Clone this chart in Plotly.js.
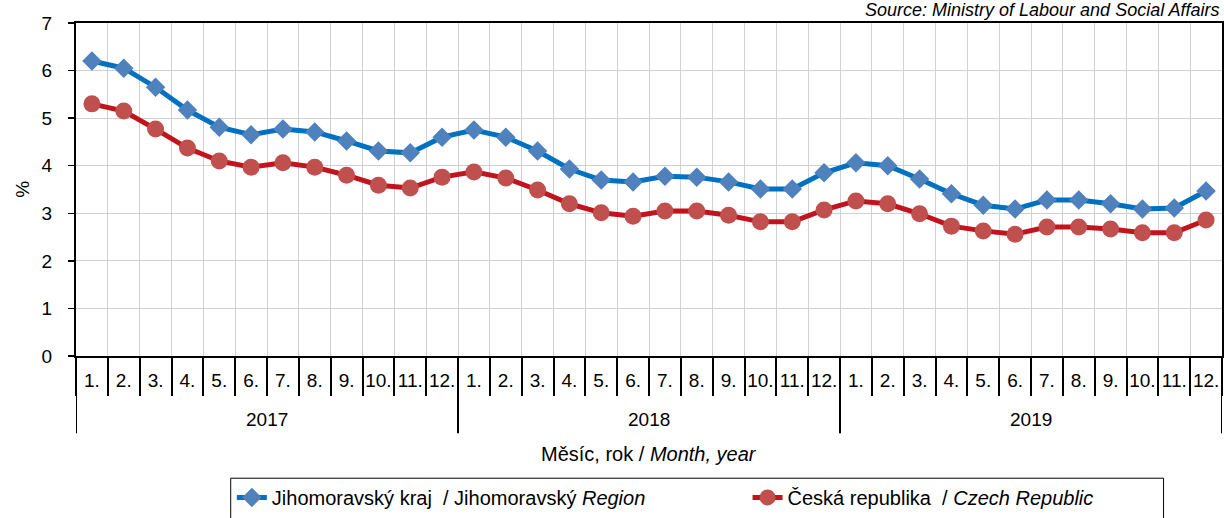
<!DOCTYPE html>
<html>
<head>
<meta charset="utf-8">
<script src="https://cdn.plot.ly/plotly-3.0.1.min.js"></script>
<style>html,body{margin:0;padding:0;background:#fff;}#chart{width:1224px;height:518px;}</style>
</head>
<body>
<div id="chart"></div>
<script>
const years = ["2017", "2018", "2019"];
const months = ["1.", "2.", "3.", "4.", "5.", "6.", "7.", "8.", "9.", "10.", "11.", "12."];
const jihomoravsky = [6.20, 6.05, 5.65, 5.17, 4.81, 4.65, 4.77, 4.71, 4.52, 4.31, 4.27, 4.60,
                      4.75, 4.60, 4.31, 3.93, 3.70, 3.66, 3.78, 3.76, 3.66, 3.51, 3.51, 3.85,
                      4.06, 4.00, 3.72, 3.41, 3.17, 3.09, 3.28, 3.28, 3.20, 3.09, 3.11, 3.47];
const ceskaRepublika = [5.30, 5.15, 4.77, 4.37, 4.10, 3.97, 4.06, 3.97, 3.80, 3.59, 3.53, 3.76,
                        3.87, 3.74, 3.49, 3.20, 3.01, 2.94, 3.05, 3.05, 2.96, 2.82, 2.82, 3.07,
                        3.26, 3.20, 2.99, 2.73, 2.63, 2.56, 2.71, 2.71, 2.67, 2.59, 2.59, 2.86];
const yTicks = [0, 1, 2, 3, 4, 5, 6, 7];

const keys = [], labels = [];
years.forEach(y => months.forEach(m => { keys.push(y + "-" + m); labels.push(m); }));

const FONT = "Liberation Sans, Arial, Helvetica, sans-serif";

const traces = [
  {
    x: keys, y: jihomoravsky, type: "scatter", mode: "lines+markers", legend: "legend",
    name: "Jihomoravský kraj  / Jihomoravský <i>Region</i>",
    line: {color: "#0070C0", width: 5},
    marker: {symbol: "diamond", size: 15, color: "#4F81BD"}
  },
  {
    x: keys, y: ceskaRepublika, type: "scatter", mode: "lines+markers", legend: "legend2",
    name: "Česká republika  / <i>Czech Republic</i>",
    line: {color: "#C0141E", width: 5},
    marker: {symbol: "circle", size: 17, color: "#C0504D"}
  }
];

const shapes = [];
const annotations = [];
const nPerYear = months.length;
for (let i = 0; i <= years.length; i++) {
  shapes.push({type: "line", xref: "x", yref: "paper", x0: i * nPerYear - 0.5, x1: i * nPerYear - 0.5,
               y0: 0, y1: -0.232, line: {color: "#000", width: 2}});
}
// legend frame
shapes.push({type: "rect", xref: "paper", yref: "paper", x0: 0.135, x1: 0.949, y0: -0.367, y1: -0.52,
             line: {color: "#000", width: 1}, fillcolor: "rgba(0,0,0,0)"});
years.forEach((y, i) => {
  annotations.push({xref: "x", yref: "paper", x: i * nPerYear + (nPerYear - 1) / 2, y: -0.192,
                    text: y, showarrow: false, yanchor: "middle", font: {size: 19, color: "#000", family: FONT}});
});
annotations.push({xref: "paper", yref: "paper", x: 0.5, y: -0.295, text: "Měsíc, rok / <i>Month, year</i>",
                  showarrow: false, yanchor: "middle", font: {size: 20, color: "#000", family: FONT}});
annotations.push({xref: "paper", yref: "paper", x: -0.047, y: 0.5, xanchor: "center", yanchor: "middle",
                  text: "%", textangle: -90, showarrow: false, font: {size: 19, color: "#000", family: FONT}});
annotations.push({xref: "paper", yref: "paper", x: 1, y: 1.04, xanchor: "right", yanchor: "middle",
                  text: "<i>Source: Ministry of Labour and Social Affairs</i>",
                  showarrow: false, font: {size: 18, color: "#000", family: FONT}});

const legendBase = {orientation: "h", xanchor: "left", y: -0.366, yanchor: "top",
                    bgcolor: "rgba(0,0,0,0)", borderwidth: 0, font: {size: 20, family: FONT}};

const layout = {
  width: 1224, height: 518,
  margin: {l: 76, r: 2, t: 23, b: 162, autoexpand: false},
  paper_bgcolor: "#fff", plot_bgcolor: "#fff",
  font: {family: FONT, size: 18, color: "#000"},
  showlegend: true,
  legend: Object.assign({}, legendBase, {x: 0.136}),
  legend2: Object.assign({}, legendBase, {x: 0.586}),
  xaxis: {
    type: "category", range: [-0.5, keys.length - 0.5], automargin: false,
    tickmode: "array", tickvals: keys, ticktext: labels, tickangle: 0,
    tickson: "boundaries", ticks: "outside", ticklen: 38, tickwidth: 2, tickcolor: "#000",
    ticklabelstandoff: 6,
    showgrid: true, gridcolor: "#D0D0D0", gridwidth: 1,
    showline: true, linecolor: "#000", linewidth: 2, mirror: true,
    zeroline: false, tickfont: {size: 19}
  },
  yaxis: {
    range: [0, 7], tickmode: "array", tickvals: yTicks, automargin: false,
    ticks: "outside", ticklen: 6, tickwidth: 1.5, tickcolor: "#000",
    showgrid: true, gridcolor: "#D0D0D0", gridwidth: 1,
    showline: true, linecolor: "#000", linewidth: 2, mirror: true,
    zeroline: false, tickfont: {size: 19}, ticklabelstandoff: 12
  },
  shapes: shapes,
  annotations: annotations
};

Plotly.newPlot("chart", traces, layout, {displayModeBar: false, staticPlot: true});
</script>
</body>
</html>
